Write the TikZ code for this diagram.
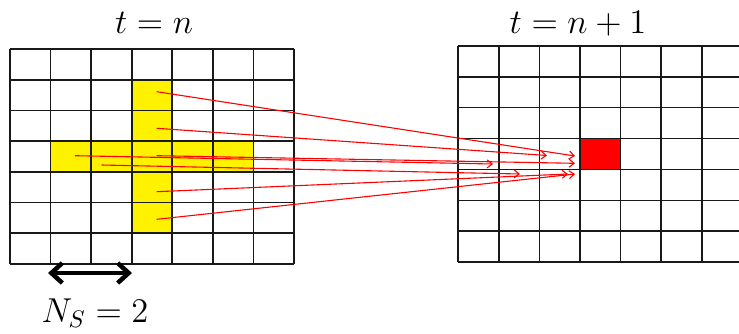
\documentclass[tikz,border=0pt]{standalone}
\usetikzlibrary{arrows.meta}
\begin{document}
\begin{tikzpicture}[x=1pt,y=-1pt,
  gridline/.style={line width=1.8pt, black!90},
  ray/.style={red, line width=1.1pt, -{Straight Barb[length=5pt,width=8pt]}},
  lbl/.style={font=\Large, scale=2.4, transform shape, anchor=base, inner sep=0pt},
  span/.style={line width=4.5pt, {Straight Barb[length=11pt,width=20pt]}-{Straight Barb[length=11pt,width=20pt]}}
]
\useasboundingbox (0,0) rectangle (739,333);
\clip (0,0) rectangle (739,333);
\def\lx{10}\def\lw{40.571}\def\ly{49}\def\lh{30.714}
\def\rx{458.3}\def\rw{40.57}\def\ry{45.7}\def\rh{30.94}
% yellow cells (left grid)
\foreach \c/\r in {3/1,3/2,3/4,3/5,1/3,2/3,3/3,4/3,5/3}
  \fill[yellow] ({\lx+\c*\lw},{\ly+\r*\lh}) rectangle ++(\lw,\lh);
% red cell (right grid)
\fill[red] ({\rx+3*\rw},{\ry+3*\rh}) rectangle ++(\rw,\rh);
% left grid
\foreach \i in {0,...,7}{
  \draw[gridline] ({\lx+\i*\lw},\ly) -- ({\lx+\i*\lw},{\ly+7*\lh});
  \draw[gridline] (\lx,{\ly+\i*\lh}) -- ({\lx+7*\lw},{\ly+\i*\lh});
}
% right grid
\foreach \i in {0,...,7}{
  \draw[gridline] ({\rx+\i*\rw},\ry) -- ({\rx+\i*\rw},{\ry+7*\rh});
  \draw[gridline] (\rx,{\ry+\i*\rh}) -- ({\rx+7*\rw},{\ry+\i*\rh});
}
% labels
\node[lbl] (tl) at (154,33) {$t=n$};
\node[lbl] (tr) at (578,33) {$t=n+1$};
\node[lbl] (ns) at (95,322) {$N_S=2$};
% span arrow
\coordinate (sa) at (48,273);
\coordinate (sb) at (132,273);
\draw[span] (sa) -- (sb);
% rays
\coordinate (s1) at (156.7,91.7);  \coordinate (e1) at (575,156);
\coordinate (s2) at (156.7,128.3); \coordinate (e2) at (547,155.5);
\coordinate (s3) at (156.7,155.7); \coordinate (e3) at (575,163.3);
\coordinate (s4) at (75,155.7);    \coordinate (e4) at (493,164);
\coordinate (s5) at (101.7,165);   \coordinate (e5) at (520,174);
\coordinate (s6) at (156.7,191.7); \coordinate (e6) at (568,174);
\coordinate (s7) at (156.7,219.3); \coordinate (e7) at (575,174);
\foreach \k in {1,...,7}
  \draw[ray] (s\k) -- (e\k);
\end{tikzpicture}
\end{document}
